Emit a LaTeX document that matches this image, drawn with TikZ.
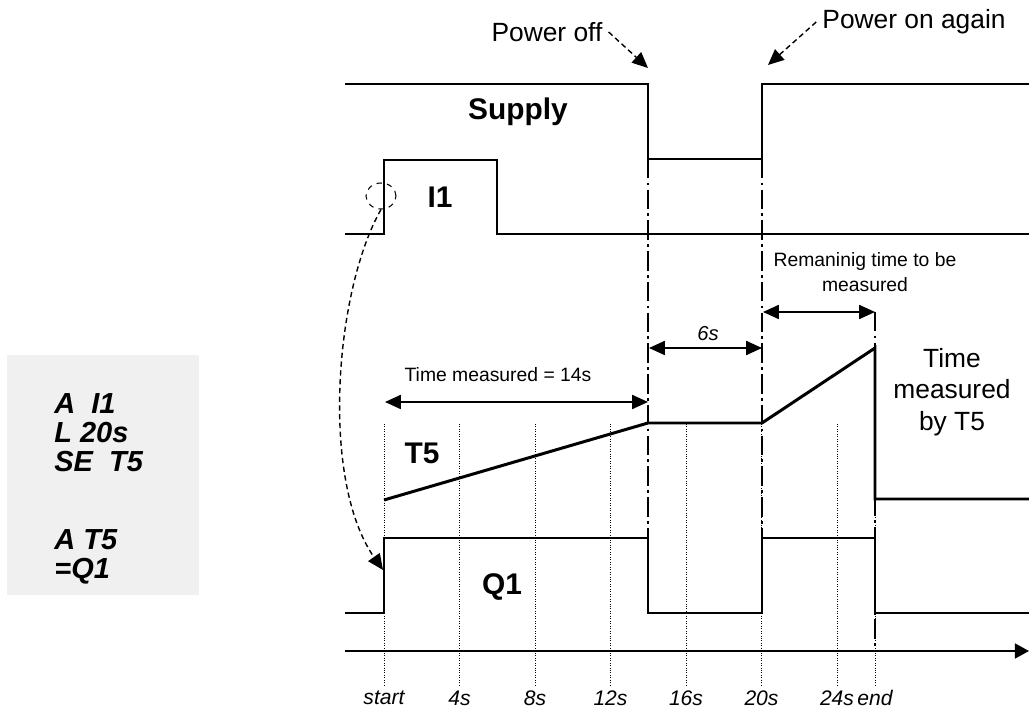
\documentclass[tikz,border=0pt]{standalone}
\usepackage{fontspec}
\setmainfont{Liberation Sans}
\usetikzlibrary{arrows.meta,positioning,shapes.geometric}
\definecolor{codegray}{HTML}{F0F0F0}

\begin{document}
\begin{tikzpicture}[
  x=0.02cm, y=-0.02cm,
  sigline/.style={line width=1.7pt},
  gridline/.style={line width=0.4pt, densely dotted},
  cutline/.style={line width=1pt, dash pattern=on 11pt off 2.5pt on 1.5pt off 2.5pt},
  dimarr/.style={{Triangle[length=9pt,width=8pt]}-{Triangle[length=9pt,width=8pt]}, line width=0.9pt},
  callarr/.style={-{Triangle[length=9pt,width=8pt]}, line width=0.8pt, densely dashed},
  siglbl/.style={font=\fontsize{17}{20}\selectfont\bfseries},
  note/.style={font=\fontsize{15}{18}\selectfont, align=center},
  small/.style={font=\fontsize{11}{14.5}\selectfont, align=center},
  tick/.style={font=\fontsize{12}{14}\selectfont\itshape}
]
\useasboundingbox (0,0) rectangle (1029,709);

%% Program listing
\fill[codegray] (7,355) rectangle (199,595);
\node[anchor=north west, inner sep=0, align=left,
      font=\fontsize{16.5}{16.5}\selectfont\bfseries\itshape]
  (code) at (54,393) {A\ \ I1\\L 20s\\SE\ \ T5\\[28pt]A T5\\=Q1};

%% Grid lines and time labels
\foreach \x/\lab in {384/start,459.5/4s,535/8s,610.5/12s,686/16s,761.5/20s,837/24s,875/end}{
  \draw[gridline] (\x,424) -- (\x,687);
  \node[tick] (tk-\lab) at (\x,698) {\lab};
}

%% Cut lines: power off, power on, end
\draw[cutline] (648,159) -- (648,538);
\draw[cutline] (762,159) -- (762,538);
\draw[cutline] (875,312) -- (875,651);

%% Signals
\draw[sigline] (345,84) -- (648,84) -- (648,159) -- (762,159) -- (762,84) -- (1029,84);
\draw[sigline] (345,234) -- (384,234) -- (384,160) -- (497,160) -- (497,234) -- (1029,234);
\draw[sigline] (384,500) -- (648,423) -- (762,423) -- (875,348) -- (875,499) -- (1029,499);
\draw[sigline] (345,613) -- (384,613) -- (384,538) -- (648,538) -- (648,613)
  -- (762,613) -- (762,538) -- (875,538) -- (875,613) -- (1029,613);

%% Time axis
\coordinate (axisL) at (345,651);
\coordinate (axisR) at (1029,651);
\draw[-{Triangle[length=8pt,width=8.5pt]}, line width=1pt] (axisL) -- (axisR);

%% Signal names
\node[siglbl] (supply) at (518,112) {Supply};
\node[siglbl] (i1) at (440,197) {I1};
\node[siglbl] (t5) at (422,453) {T5};
\node[siglbl] (q1) at (502,587) {Q1};

%% Power events
\node[note] (poff) at (547,32) {Power off};
\node[note] (pon) at (914,22) {Power on again};
\coordinate (offedge) at (648,68);
\coordinate (onedge) at (768,65);
\draw[callarr] (poff.east) -- (offedge);
\draw[callarr] (pon.west) -- (onedge);

%% I1 edge starts T5 and Q1
\node[draw, dashed, ellipse, line width=0.6pt, inner sep=0,
      minimum width=0.6cm, minimum height=0.52cm] (edge) at (381,196) {};
\coordinate (qrise) at (383,570);
\draw[callarr] (edge.south) .. controls (335,290) and (320,480) .. (qrise);

%% Durations
\coordinate (m0) at (385,402); \coordinate (m1) at (648,402);
\draw[dimarr] (m0) -- (m1);
\node[small] (tmeas) at (498,375) {Time measured = 14s};

\coordinate (p0) at (649,348); \coordinate (p1) at (762,348);
\draw[dimarr] (p0) -- (p1);
\node[small, font=\fontsize{11.5}{14}\selectfont\itshape] (gap) at (708,334) {6s};

\coordinate (r0) at (763,312); \coordinate (r1) at (875,312);
\draw[dimarr] (r0) -- (r1);
\node[small] (remain) at (865,272) {Remaninig time to be\\measured};

\node[note] (total) at (952,392) {Time\\measured\\by T5};

\end{tikzpicture}
\end{document}
